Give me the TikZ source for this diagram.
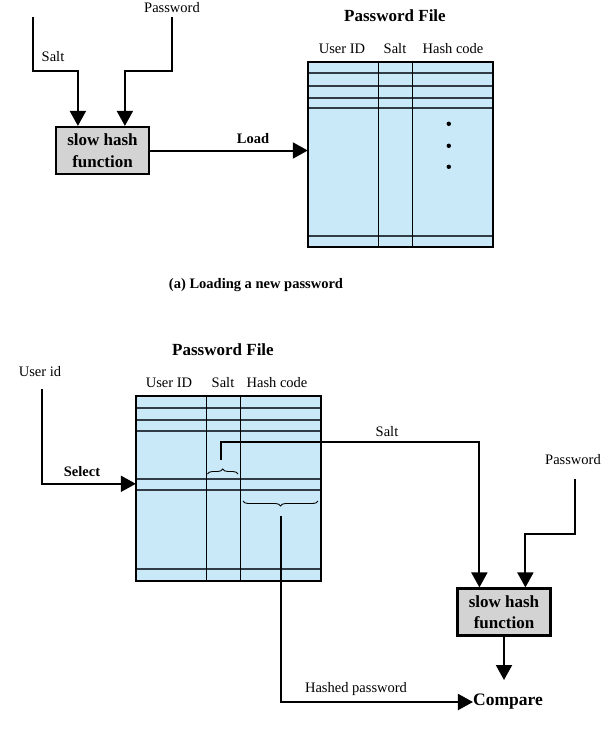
\documentclass[tikz,border=0pt]{standalone}
\usepackage{fontspec}
\setmainfont{Liberation Serif}
\usetikzlibrary{arrows.meta,decorations.pathreplacing,calc}
\definecolor{tblue}{RGB}{201,233,248}
\definecolor{boxgray}{RGB}{211,211,211}
\definecolor{rowline}{RGB}{50,60,70}
\begin{document}
\begin{tikzpicture}[x=1pt,y=-1pt,
  conn/.style={line width=2pt, line join=miter},
  arr/.style={conn, -{Triangle[width=16pt,length=15pt]}},
  lbl/.style={font=\fontsize{14.5}{17}\selectfont, inner sep=0pt},
  blbl/.style={font=\bfseries\fontsize{14.5}{17}\selectfont, inner sep=0pt},
  ttl/.style={font=\bfseries\fontsize{17}{20}\selectfont, inner sep=0pt},
  cmpstyle/.style={font=\bfseries\fontsize{17.5}{20}\selectfont, inner sep=0pt},
  hashbox/.style={draw, line width=2.2pt, fill=boxgray, minimum width=93pt,
    minimum height=47pt, align=center, inner sep=0pt,
    font=\bfseries\fontsize{17}{21.5}\selectfont},
  tablebody/.style={fill=tblue, minimum width=185pt, minimum height=185pt, inner sep=0pt},
  rowrule/.style={line width=1.4pt, draw=rowline},
  colrule/.style={line width=1.3pt, draw=black},
  border/.style={line width=2.4pt, draw=black},
  bracestyle/.style={decorate, decoration={brace, amplitude=5pt}, line width=0.9pt}
]
\useasboundingbox (0,0) rectangle (610,734);

% ---------------- (a) loading a new password ----------------
\node[hashbox] (hashA) at (102.5,150.5) {slow hash\\function};
\node[lbl] (saltA) at (53,57) {Salt};
\node[lbl] (pwA) at (172,8) {Password};
\coordinate (saltInA) at (33,17);
\coordinate (pwInA) at (172,17);
\draw[arr] (saltInA) -- (33,71) -| ([xshift=23pt]hashA.north west);
\draw[arr] (pwInA) -- (172,71) -| ([xshift=70pt]hashA.north west);

% password file table
\node[ttl] (titleA) at (395,16) {Password File};
\node[lbl] (uidA) at (342,49) {User ID};
\node[lbl] (sltA) at (395,49) {Salt};
\node[lbl] (hcA) at (453,49) {Hash code};
\node[tablebody] (tabA) at (400.5,154.5) {};
\begin{scope}[shift={(tabA.north west)}]
  \foreach \r in {11,24,36,46,174} \draw[rowrule] (0,\r) -- (185,\r);
  \foreach \c in {71,105} \draw[colrule] (\c,0) -- (\c,185);
  \foreach \d in {62,84,105} \fill (141,\d) circle (2.2pt);
\end{scope}
\draw[border] (tabA.north west) rectangle (tabA.south east);

\draw[arr] (hashA.east) -- (tabA.west |- hashA.east);
\node[blbl] (loadA) at (253,139) {Load};

\node[blbl] (capA) at (256,285) {(a) Loading a new password};

% ---------------- verifying a password ----------------
\node[ttl] (titleB) at (223,350) {Password File};
\node[lbl] (uidB) at (169,383) {User ID};
\node[lbl] (sltB) at (223,383) {Salt};
\node[lbl] (hcB) at (277,383) {Hash code};
\node[tablebody] (tabB) at (228.5,488.5) {};
\begin{scope}[shift={(tabB.north west)}]
  \foreach \r in {12,24,35,83,94,173} \draw[rowrule] (0,\r) -- (185,\r);
  \foreach \c in {71,105} \draw[colrule] (\c,0) -- (\c,185);
\end{scope}
\draw[border] (tabB.north west) rectangle (tabB.south east);

% braces over the selected entry
\draw[bracestyle] (207.5,474) -- (238,474);
\draw[bracestyle] (318,501) -- (243,501);

% user id selects an entry
\node[lbl] (useridB) at (40,372) {User id};
\coordinate (uidIn) at (42,389);
\draw[arr] (uidIn) |- ($(tabB.north west)+(0,88)$);
\node[blbl] (selB) at (82,472) {Select};

% hash function and comparison
\node[hashbox] (hashB) at (504,612) {slow hash\\function};
\node[cmpstyle] (cmp) at (508,702) {Compare};
\coordinate (cmpTop) at (504,680);
\draw[arr] (hashB.south) -- (cmpTop);

\coordinate (saltTip) at (221,460);
\draw[arr] (saltTip) -- (221,442) -| ([xshift=23pt]hashB.north west);
\node[lbl] (saltB) at (387,432) {Salt};

\node[lbl] (pwB) at (573,460) {Password};
\coordinate (pwInB) at (575,479);
\draw[arr] (pwInB) -- (575,534) -| ([xshift=69pt]hashB.north west);

\coordinate (hashTip) at (280.5,516);
\draw[arr] (hashTip) |- (cmp.west);
\node[lbl] (hpB) at (356,689) {Hashed password};
\end{tikzpicture}
\end{document}
